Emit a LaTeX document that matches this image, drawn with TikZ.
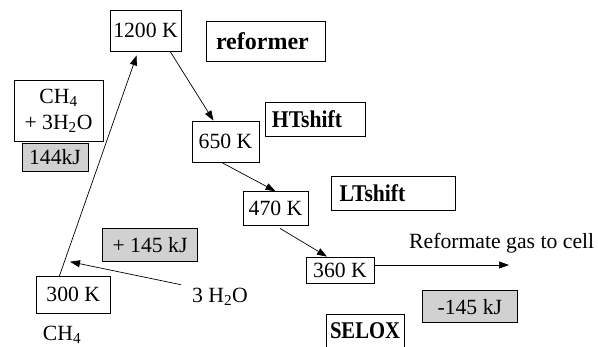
\documentclass[tikz,border=0pt]{standalone}
\usepackage{fontspec}
\setmainfont{Liberation Serif}
\usetikzlibrary{arrows.meta}
% bold reactor label, optionally condensed horizontally
\newcommand{\stagelabel}[2][1]{\fontsize{24}{26}\selectfont\scalebox{#1}[1]{\textbf{#2}}}
\begin{document}
\begin{tikzpicture}[x=1pt,y=-1pt,
  every node/.style={font=\fontsize{21.7}{25}\selectfont, inner sep=0pt},
  box/.style={draw, line width=0.8pt, fill=white},
  heat/.style={box, fill=black!18},
  leftbox/.style={box, align=left, inner xsep=#1},
  flow/.style={line width=0.7pt, -{Triangle[length=10pt,width=7pt]}}]
  \useasboundingbox (0,0) rectangle (598,346);
  \clip (0,0) rectangle (598,346);

  % temperature stages
  \node[box, minimum width=71pt, minimum height=41.5pt] (n1200) at (145.5,30.7) {1200 K};
  \node[box, minimum width=67pt, minimum height=41pt] (n650) at (225.5,141.5) {650 K};
  \node[box, minimum width=65pt, minimum height=33.3pt] (n470) at (275.5,208.3) {470 K};
  \node[box, minimum width=68pt, minimum height=26pt] (n360) at (340,270) {360 K};
  \node[box, minimum width=74.7pt, minimum height=36.3pt] (n300) at (73.3,294.8) {300 K};

  % reactor labels
  \node[leftbox=10pt, text width=99pt, minimum height=40pt] (ref) at (265.5,41) {\stagelabel{reformer}};
  \node[leftbox=7pt, text width=86.5pt, minimum height=34pt] (hts) at (315.2,119) {\stagelabel[0.9]{HTshift}};
  \node[leftbox=8pt, text width=107.3pt, minimum height=33.3pt] (lts) at (393.3,193.3) {\stagelabel[0.9]{LTshift}};
  \node[box, minimum width=78pt, minimum height=34pt] (selox) at (365,331) {\stagelabel[0.86]{SELOX}};

  % feed and heat balance
  \node[box, minimum width=89pt, minimum height=61pt, align=center] (feed) at (58.5,110.5)
    {CH\textsubscript{4}\\[1pt] + 3H\textsubscript{2}O};
  \node[heat, minimum width=66pt, minimum height=28pt] (q144) at (55,157) {144kJ};
  \node[heat, minimum width=94.7pt, minimum height=33.7pt] (q145) at (150,244.8) {+ 145 kJ};
  \node[heat, minimum width=94.3pt, minimum height=32pt] (qout) at (469.8,306.7) {-145 kJ};

  % free texts
  \node (h2o) at (220,296.7) {3 H\textsubscript{2}O};
  \node (ch4) at (62,335) {CH\textsubscript{4}};
  \node[anchor=base west] (gas) at (409,248) {Reformate gas to cell};
  \coordinate (gasend) at (509,265);
  \coordinate (mix) at (70,261.7);

  % process path
  \draw[flow] ([xshift=-14pt]n300.north) -- ([xshift=-8.8pt,yshift=-3.5pt]n1200.south);
  \draw[flow] ([xshift=-11pt]n1200.south east) -- ([xshift=-12pt]n650.north);
  \draw[flow] ([xshift=-4pt]n650.south) -- (n470.north);
  \draw[flow] ([xshift=4.5pt,yshift=-3pt]n470.south) -- ([xshift=-13pt]n360.north);
  \draw[flow] ([yshift=5pt]n360.east) -- (gasend);
  \draw[flow] ([xshift=-11pt,yshift=12pt]h2o.west) -- (mix);
\end{tikzpicture}
\end{document}
